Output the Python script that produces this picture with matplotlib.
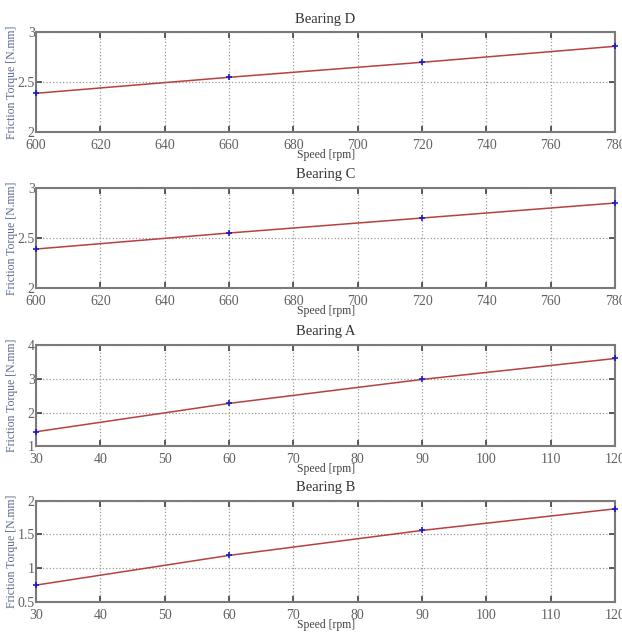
#!/usr/bin/env python3

"""Friction torque vs speed for four bearings, stacked panels."""

import matplotlib
matplotlib.use('Agg')
import matplotlib.pyplot as plt

titles = ['Bearing D', 'Bearing C', 'Bearing A', 'Bearing B']

speed_high = [600, 660, 720, 780]
speed_low = [30, 60, 90, 120]

torque_d = [2.39, 2.55, 2.70, 2.86]
torque_c = [2.39, 2.55, 2.70, 2.85]
torque_a = [1.43, 2.27, 2.98, 3.60]
torque_b = [0.75, 1.19, 1.56, 1.88]

xticks_high = [600, 620, 640, 660, 680, 700, 720, 740, 760, 780]
xticks_low = [30, 40, 50, 60, 70, 80, 90, 100, 110, 120]
yticks_d = [2, 2.5, 3]
yticks_a = [1, 2, 3, 4]
yticks_b = [0.5, 1, 1.5, 2]


def draw_panel(fig, rect, title, x, y, xticks, yticks):
    ax = fig.add_axes(rect)
    ax.plot(x, y, color='#b84040', linewidth=1.1, zorder=3)
    ax.plot(x, y, linestyle='none', marker='+', color='#1a1acc',
            markersize=5, markeredgewidth=1.2, zorder=4, clip_on=False)
    ax.set_xlim(xticks[0], xticks[-1])
    ax.set_ylim(yticks[0], yticks[-1])
    ax.set_xticks(xticks)
    ax.set_yticks(yticks)
    ax.set_yticklabels([('%g' % v) for v in yticks])
    ax.grid(True, linestyle=':', color='#9a9a9a', linewidth=0.9)
    ax.tick_params(direction='in', length=4, width=1.2, color='#404040',
                   top=True, right=True, labelsize=10,
                   labelcolor='#606060')
    ax.tick_params(axis='x', pad=5)
    ax.tick_params(axis='y', pad=1)
    for s in ax.spines.values():
        s.set_color('#7a7a7a')
        s.set_linewidth(1.5)
    ax.set_title(title, fontsize=10.5, color='#333333', pad=7)
    ax.set_xlabel('Speed [rpm]', fontsize=8.5, color='#444444')
    ax.xaxis.set_label_coords(0.5, -0.17)
    ax.set_ylabel('Friction Torque [N.mm]', fontsize=8.5,
                  color='#5a6a8a')
    ax.yaxis.set_label_coords(-0.031, 0.5)
    return ax


def main():
    plt.rcParams['font.family'] = ['Liberation Serif', 'DejaVu Serif']
    fig = plt.figure(figsize=(6.22, 6.33), dpi=100)
    left, width = 0.058, 0.931
    rects = [
        [left, 0.791, width, 0.158],
        [left, 0.545, width, 0.158],
        [left, 0.295, width, 0.160],
        [left, 0.049, width, 0.160],
    ]
    draw_panel(fig, rects[0], titles[0], speed_high, torque_d,
               xticks_high, yticks_d)
    draw_panel(fig, rects[1], titles[1], speed_high, torque_c,
               xticks_high, yticks_d)
    draw_panel(fig, rects[2], titles[2], speed_low, torque_a,
               xticks_low, yticks_a)
    draw_panel(fig, rects[3], titles[3], speed_low, torque_b,
               xticks_low, yticks_b)
    fig.savefig('out.png', dpi=100)


if __name__ == '__main__':
    main()
